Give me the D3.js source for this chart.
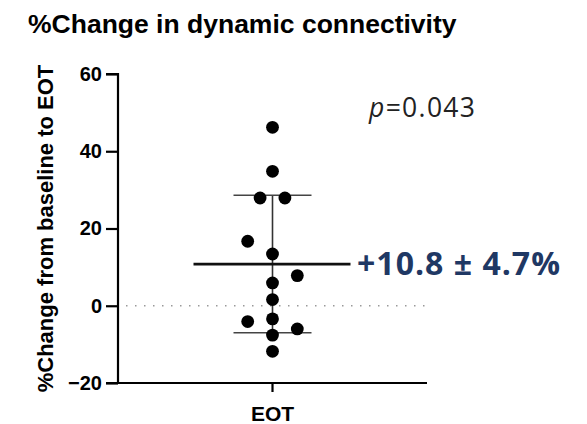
<!DOCTYPE html>
<html>
<head>
<meta charset="utf-8">
<script src="https://cdn.jsdelivr.net/npm/d3@7"></script>
<style>
  body { margin: 0; background: #fff; }
  svg { display: block; }
  .axis path, .axis line { stroke: #000; stroke-width: 2.2px; }
  .axis text { font-family: "Liberation Sans", Arial, sans-serif; font-weight: bold; font-size: 20px; fill: #000; }
</style>
</head>
<body>
<div id="chart"></div>
<script>
// data
var groups = ["EOT"];
var pctChange = [46.2, 34.8, 27.9, 27.9, 16.7, 13.4, 7.8, 5.9, 1.6, -3.4, -4.1, -6.0, -7.6, -11.8];
var slot = [0, 0, -1, 1, -2, 0, 2, 0, 0, 0, -2, 2, 0, 0]; // horizontal scatter position
var yTicks = [-20, 0, 20, 40, 60];
var meanVal = 10.8, sdVal = 17.8;
var pText = "0.043";
var summaryText = "+10.8 \u00B1 4.7%";

var width = 587, height = 424;
var margin = {top: 74, left: 118, bottom: 41};

var svg = d3.select("#chart").append("svg")
    .attr("width", width)
    .attr("height", height);

// scales
var y = d3.scaleLinear().domain([-20, 60]).range([height - margin.bottom, margin.top]);
var x = d3.scaleBand().domain(groups).range([margin.left, 427]);
var mid = x(groups[0]) + x.bandwidth() / 2;
var cx = function(i) { return mid + slot[i] * 12.4; };

// title
svg.append("text")
    .attr("x", 28)
    .attr("y", 33)
    .style("font-family", "'Liberation Sans', Arial, sans-serif")
    .style("font-weight", "bold")
    .style("font-size", "26.5px")
    .text("%Change in dynamic connectivity");

// zero reference line (dotted)
svg.append("line")
    .attr("x1", margin.left + 8).attr("x2", 427)
    .attr("y1", y(0)).attr("y2", y(0))
    .style("stroke", "#999")
    .style("stroke-width", 1.5)
    .style("stroke-dasharray", "1.5,7.5");

// y axis
var yAxis = d3.axisLeft(y).tickValues(yTicks).tickSize(12).tickPadding(4);
svg.append("g")
    .attr("class", "axis")
    .attr("transform", "translate(" + margin.left + ",0)")
    .call(yAxis)
    .call(function(g) { g.select(".domain").attr("d", "M-12," + y(60) + "H0V" + y(-20)); });

// x axis
var xAxis = d3.axisBottom(x).tickSize(9).tickPadding(14);
svg.append("g")
    .attr("class", "axis")
    .attr("transform", "translate(0," + y(-20) + ")")
    .call(xAxis)
    .call(function(g) {
      g.select(".domain").attr("d", "M" + (margin.left - 12) + ",0H427");
      g.selectAll("text").style("font-size", "21px");
    });

// y label
svg.append("text")
    .attr("transform", "rotate(-90)")
    .attr("x", -228.5)
    .attr("y", 53)
    .style("text-anchor", "middle")
    .style("font-family", "'Liberation Sans', Arial, sans-serif")
    .style("font-weight", "bold")
    .style("font-size", "22px")
    .text("%Change from baseline to EOT");

// SD whisker
svg.append("line")
    .attr("x1", mid).attr("x2", mid)
    .attr("y1", y(meanVal + sdVal)).attr("y2", y(meanVal - sdVal))
    .style("stroke", "#333").style("stroke-width", 1.6);
[meanVal + sdVal, meanVal - sdVal].forEach(function(v) {
  svg.append("line")
      .attr("x1", mid - 39).attr("x2", mid + 39)
      .attr("y1", y(v)).attr("y2", y(v))
      .style("stroke", "#444").style("stroke-width", 1.6);
});

// dots
svg.selectAll(".dot")
    .data(pctChange)
  .enter().append("circle")
    .attr("class", "dot")
    .attr("r", 6.4)
    .attr("cx", function(d, i) { return cx(i); })
    .attr("cy", function(d) { return y(d); })
    .style("fill", "#000");

// mean line
svg.append("line")
    .attr("x1", mid - 79).attr("x2", mid + 78)
    .attr("y1", y(meanVal)).attr("y2", y(meanVal))
    .style("stroke", "#111").style("stroke-width", 2.8);

// p value
var pt = svg.append("text")
    .attr("x", 369)
    .attr("y", 117)
    .attr("textLength", 106)
    .attr("lengthAdjust", "spacing")
    .style("font-family", "'Open Sans', sans-serif")
    .style("font-size", "26.5px")
    .style("fill", "#222");
pt.append("tspan").style("font-style", "italic").text("p");
pt.append("tspan").text("=" + pText);

// summary
svg.append("text")
    .attr("x", 357)
    .attr("y", 275)
    .attr("textLength", 203)
    .attr("lengthAdjust", "spacing")
    .style("font-family", "'Open Sans', sans-serif")
    .style("font-weight", "bold")
    .style("font-size", "32px")
    .style("fill", "#1f3864")
    .text(summaryText);
</script>
</body>
</html>
